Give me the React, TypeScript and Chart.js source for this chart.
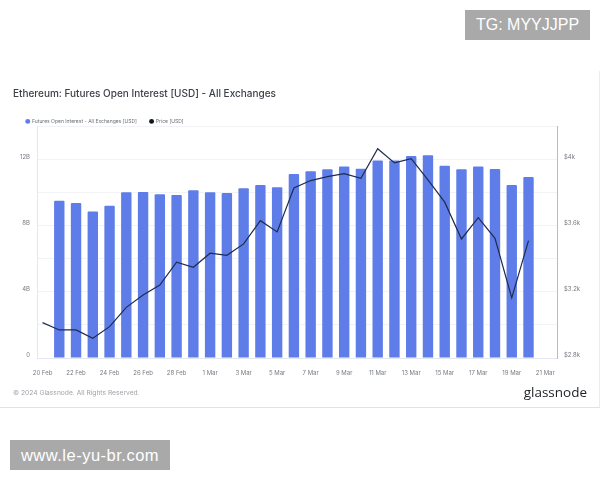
import React, { useEffect, useRef } from "react";
import { Chart, registerables } from "chart.js";

Chart.register(...registerables);

const dateLabels = [
  "20 Feb", "21 Feb", "22 Feb", "23 Feb", "24 Feb", "25 Feb", "26 Feb", "27 Feb", "28 Feb", "29 Feb",
  "1 Mar", "2 Mar", "3 Mar", "4 Mar", "5 Mar", "6 Mar", "7 Mar", "8 Mar", "9 Mar", "10 Mar",
  "11 Mar", "12 Mar", "13 Mar", "14 Mar", "15 Mar", "16 Mar", "17 Mar", "18 Mar", "19 Mar", "20 Mar", "21 Mar",
];
const openInterest = [
  null, 9.52, 9.39, 8.87, 9.23, 10.04, 10.06, 9.92, 9.88, 10.16,
  10.04, 10.0, 10.28, 10.48, 10.35, 11.15, 11.32, 11.44, 11.6, 11.47,
  11.96, 11.96, 12.24, 12.28, 11.64, 11.44, 11.6, 11.45, 10.48, 10.97,
];
const price = [
  3014, 2970, 2970, 2919, 2990, 3107, 3182, 3242, 3380, 3350,
  3435, 3422, 3491, 3632, 3564, 3830, 3875, 3899, 3917, 3889,
  4068, 3982, 4008, 3879, 3744, 3521, 3650, 3525, 3164, 3511,
];
const seriesNames = ["Futures Open Interest - All Exchanges [USD]", "Price [USD]"];
const chartTitle = "Ethereum: Futures Open Interest [USD] - All Exchanges";
const footerText = "© 2024 Glassnode. All Rights Reserved.";
const brandText = "glassnode";
const watermarkTop = "TG: MYYJJPP";
const watermarkBottom = "www.le-yu-br.com";

const FONT = "Inter";

const compactLegend = {
  id: "compactLegend",
  beforeLayout(chart: any) {
    const legend = chart.legend;
    if (!legend || legend.__compact) return;
    const fit = legend.fit;
    legend.fit = function () {
      fit.call(this);
      this.height = 21;
    };
    legend.__compact = true;
  },
};

export default function App() {
  const ref = useRef<HTMLCanvasElement | null>(null);

  useEffect(() => {
    if (!ref.current) return;
    const chart = new Chart(ref.current, {
      data: {
        datasets: [
          {
            type: "line",
            label: seriesNames[1],
            data: price.map((y, x) => ({ x, y })),
            yAxisID: "yPrice",
            borderColor: "#1f2b4d",
            backgroundColor: "#11151f",
            borderWidth: 1.2,
            pointRadius: 0,
            tension: 0,
            order: 1,
          },
          {
            type: "bar",
            label: seriesNames[0],
            data: openInterest.map((y, x) => ({ x, y })),
            yAxisID: "yOI",
            backgroundColor: "#5f7de8",
            borderRadius: 1,
            barPercentage: 0.62,
            categoryPercentage: 1,
            order: 2,
          },
        ],
      } as any,
      plugins: [compactLegend],
      options: {
        animation: false,
        responsive: false,
        devicePixelRatio: 1,
        layout: { padding: { top: 87.5, bottom: 99, left: 13, right: 0 } },
        plugins: {
          tooltip: { enabled: false },
          title: {
            display: true,
            text: chartTitle,
            align: "start",
            color: "#3c4048",
            font: { family: FONT, size: 10, weight: "500" },
            padding: { top: 0, bottom: 6.4 },
          },
          legend: {
            display: true,
            align: "start",
            reverse: true,
            labels: {
              usePointStyle: true,
              pointStyle: "circle",
              boxWidth: 3.5,
              boxHeight: 3.5,
              color: "#6b6f76",
              font: { family: FONT, size: 5 },
              padding: 13,
              generateLabels: (c: any) =>
                (Chart.defaults.plugins.legend.labels as any).generateLabels(c).map((i: any) => ({ ...i, lineWidth: 0 })),
            },
          },
        },
        scales: {
          x: {
            type: "linear",
            offset: false,
            min: -0.33,
            max: 30.7,
            grid: { display: false },
            border: { color: "#e4e7ef" },
            afterBuildTicks: (axis: any) => {
              axis.ticks = dateLabels.map((_, i) => ({ value: i })).filter((t) => t.value % 2 === 0);
            },
            ticks: {
              autoSkip: false,
              maxRotation: 0,
              padding: 4,
              color: "#777b82",
              font: { family: FONT, size: 6 },
              callback: (v: any) => dateLabels[Number(v)],
            },
            afterFit: (axis: any) => {
              axis.height = 23;
            },
          },
          yOI: {
            type: "linear",
            position: "left",
            min: 0,
            max: 14,
            grid: { color: "#eef0f5", lineWidth: 0.8, drawTicks: false },
            border: { color: "#e4e7ef" },
            afterBuildTicks: (axis: any) => {
              axis.ticks = [0, 2, 4, 6, 8, 10, 12, 14].map((value) => ({ value }));
            },
            ticks: {
              padding: 7,
              labelOffset: -3,
              color: "#777b82",
              font: { family: FONT, size: 6 },
              callback: (v: any) => (Number(v) % 4 === 0 && Number(v) <= 12 ? (Number(v) === 0 ? "0" : `${v}B`) : ""),
            },
            afterFit: (axis: any) => {
              axis.width = 24;
            },
          },
          yPrice: {
            type: "linear",
            position: "right",
            min: 2800,
            max: 4200,
            grid: { display: false, drawTicks: false },
            border: { color: "#b8bbc0", width: 1 },
            afterBuildTicks: (axis: any) => {
              axis.ticks = [2800, 3200, 3600, 4000].map((value) => ({ value }));
            },
            ticks: {
              padding: 7,
              labelOffset: -3,
              color: "#777b82",
              font: { family: FONT, size: 6 },
              callback: (v: any) => (Number(v) === 4000 ? "$4k" : `$${(Number(v) / 1000).toFixed(1)}k`),
            },
            afterFit: (axis: any) => {
              axis.width = 43;
            },
          },
        },
      } as any,
    });
    return () => chart.destroy();
  }, []);

  const box = (left: number, top: number, width: number, height: number, text: string, size: number, spacing: number) => (
    <div
      style={{
        position: "absolute", left, top, width, height, background: "#a9a9a9", color: "#fff",
        fontFamily: "Liberation Sans", fontSize: size, letterSpacing: spacing, lineHeight: `${height}px`, textAlign: "center",
      }}
    >
      {text}
    </div>
  );

  return (
    <div style={{ position: "fixed", left: 0, top: 0, width: 600, height: 480, background: "#fff", overflow: "hidden" }}>
      <div style={{ position: "absolute", left: 0, top: 71, width: 599, height: 336, borderRight: "1px solid #ececec", borderBottom: "1px solid #e2e2e2" }} />
      <canvas ref={ref} width={600} height={480} style={{ position: "absolute", left: 0, top: 0, width: 600, height: 480 }} />
      <div style={{ position: "absolute", left: 13, top: 387, fontFamily: FONT, fontSize: 6.7, color: "#a0a3a8", lineHeight: "12px", whiteSpace: "nowrap" }}>
        {footerText}
      </div>
      <div style={{ position: "absolute", right: 13, top: 382, fontFamily: "Open Sans", fontSize: 13.5, fontWeight: 500, color: "#1c1f24", lineHeight: "20px" }}>
        {brandText}
      </div>
      {box(465, 10, 125, 30, watermarkTop, 16, 0)}
      {box(10, 440, 160, 30, watermarkBottom, 16.5, 0.5)}
    </div>
  );
}
